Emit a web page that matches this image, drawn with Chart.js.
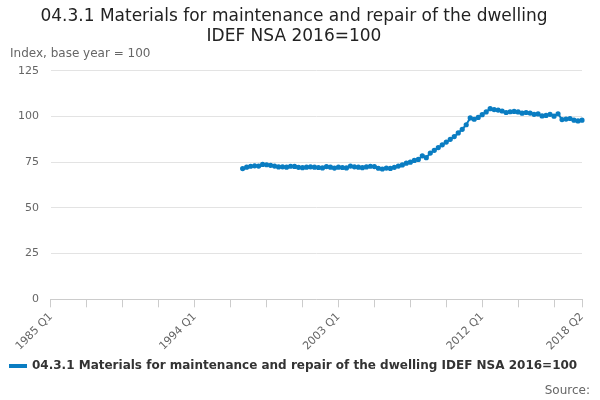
<!DOCTYPE html>
<html>
<head>
<meta charset="utf-8">
<script src="https://cdn.jsdelivr.net/npm/chart.js@4"></script>
<style>
  body { margin: 0; background: #fff; }
  #wrap { width: 600px; height: 400px; position: relative; }
</style>
</head>
<body>
<div id="wrap"><canvas id="chart"></canvas></div>
<script>
// quarters 1985 Q1 .. 2018 Q2
const quarters = [];
for (let y = 1985; y <= 2018; y++) {
  for (let q = 1; q <= 4; q++) {
    if (y === 2018 && q > 2) break;
    quarters.push(y + ' Q' + q);
  }
}

// values from 1997 Q1 to 2018 Q2
const seriesValues = [
  71.5, 72.3, 72.8, 73.0,
  72.9, 73.8, 73.6, 73.3,
  72.9, 72.4, 72.5, 72.3,
  72.8, 72.7, 72.2, 72.0,
  72.3, 72.5, 72.3, 72.1,
  71.9, 72.6, 72.3, 71.8,
  72.3, 72.1, 71.9, 72.9,
  72.5, 72.3, 72.0, 72.4,
  72.8, 72.6, 71.7, 71.3,
  71.8, 71.6, 72.2, 72.9,
  73.5, 74.5, 75.0, 76.0,
  76.5, 78.5, 77.5, 80.0,
  81.5, 83.0, 84.5, 86.0,
  87.5, 89.0, 91.0, 93.0,
  95.5, 99.2, 98.5, 99.5,
  101.0, 102.5, 104.3, 103.8,
  103.5, 103.0, 102.2, 102.6,
  102.8, 102.5, 101.8, 102.2,
  101.9, 101.2, 101.4, 100.3,
  100.6, 101.2, 100.2, 101.5,
  98.3, 98.6, 98.9, 98.0,
  97.6, 98.0, 98.8, 101.1
];
const firstQuarter = '1997 Q1';
const tickLabels = ['1985 Q1', '1994 Q1', '2003 Q1', '2012 Q1', '2018 Q2'];
const seriesName = '04.3.1 Materials for maintenance and repair of the dwelling IDEF NSA 2016=100';

const offset = quarters.indexOf(firstQuarter);
const data = quarters.map((q, i) => i >= offset ? seriesValues[i - offset] : null);

const FONT = 'DejaVu Sans';

const extras = {
  id: 'extras',
  afterDraw(chart) {
    const c = chart.ctx;
    c.save();
    c.font = '12px ' + FONT;
    c.fillStyle = '#666';
    c.textBaseline = 'alphabetic';
    c.textAlign = 'left';
    c.fillText('Index, base year = 100', 10, 57);
    c.textAlign = 'right';
    c.fillText('Source:', 590, 394);
    c.restore();
  }
};

new Chart(document.getElementById('chart'), {
  type: 'line',
  data: {
    labels: quarters,
    datasets: [{
      label: seriesName,
      data: data,
      borderColor: '#0a7dc2',
      backgroundColor: '#0a7dc2',
      borderWidth: 2,
      pointRadius: 1.6,
      pointHoverRadius: 2,
      tension: 0,
      spanGaps: false
    }]
  },
  options: {
    responsive: true,
    maintainAspectRatio: false,
    animation: false,
    layout: { padding: { left: 6, right: 18, bottom: 18 } },
    plugins: {
      title: {
        display: true,
        text: ['04.3.1 Materials for maintenance and repair of the dwelling', 'IDEF NSA 2016=100'],
        font: { family: FONT, size: 17, weight: 'normal' },
        color: '#222',
        padding: { top: 6, bottom: 24 },
        lineHeight: 1.2
      },
      legend: {
        position: 'bottom',
        align: 'start',
        labels: {
          font: { family: FONT, size: 12, weight: 'bold' },
          color: '#333',
          boxWidth: 16,
          boxHeight: 2,
          padding: 4
        }
      },
      tooltip: { enabled: false }
    },
    scales: {
      x: {
        grid: {
          drawOnChartArea: false,
          color: '#ccc',
          tickLength: 8
        },
        border: { color: '#ccc' },
        ticks: {
          autoSkip: false,
          maxRotation: 45,
          minRotation: 45,
          color: '#666',
          font: { family: FONT, size: 11 },
          callback: function (v, i) {
            const lab = quarters[i];
            if (tickLabels.includes(lab)) return lab;
            if (i % 9 === 0) return '';
            return null;
          }
        }
      },
      y: {
        min: 0,
        max: 125,
        grid: { color: '#e3e3e3', drawTicks: false },
        border: { display: false },
        ticks: {
          stepSize: 25,
          padding: 12,
          color: '#666',
          font: { family: FONT, size: 11 }
        }
      }
    }
  },
  plugins: [extras]
});
</script>
</body>
</html>
